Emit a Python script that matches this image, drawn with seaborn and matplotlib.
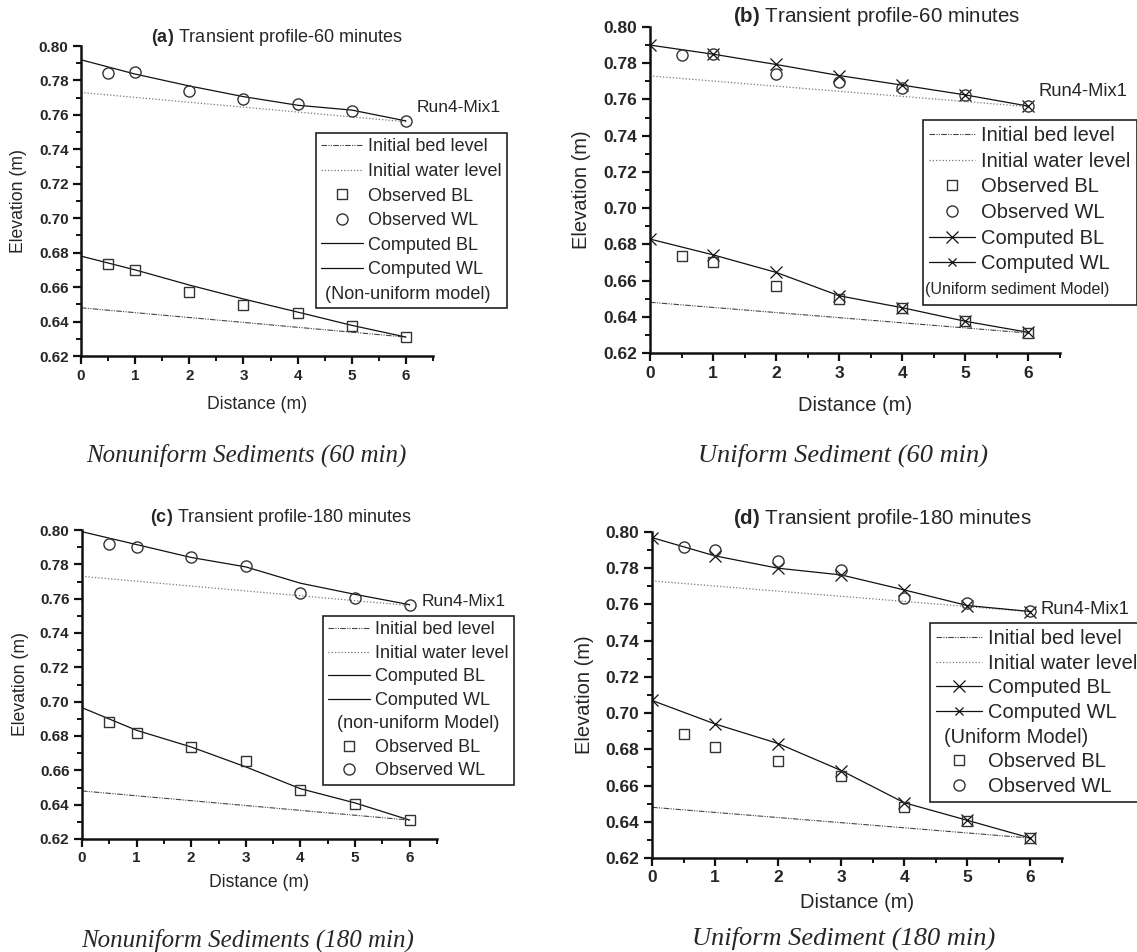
import numpy as np
import pandas as pd
import matplotlib
matplotlib.use("Agg")
import matplotlib.pyplot as plt
import seaborn as sns
from matplotlib.lines import Line2D

# ---- data ----
dist_obs = [0.5, 1, 2, 3, 4, 5, 6]
dist_cmp = [0, 1, 2, 3, 4, 5, 6]
dist_init = [0, 6]

init_bed = [0.648, 0.631]
init_water = [0.773, 0.756]

obs_bl_60 = [0.6735, 0.6700, 0.6570, 0.6497, 0.6448, 0.6374, 0.6310]
obs_wl_60 = [0.7845, 0.7850, 0.7738, 0.7695, 0.7664, 0.7624, 0.7562]
obs_bl_180 = [0.6883, 0.6815, 0.6737, 0.6655, 0.6484, 0.6405, 0.6310]
obs_wl_180 = [0.7917, 0.7900, 0.7840, 0.7790, 0.7635, 0.7606, 0.7563]

nonuni_bl_60 = [0.6780, 0.6700, 0.6612, 0.6531, 0.6455, 0.6378, 0.6310]
nonuni_wl_60 = [0.7920, 0.7837, 0.7768, 0.7706, 0.7656, 0.7628, 0.7565]
uni_bl_60 = [0.6829, 0.6742, 0.6645, 0.6516, 0.6450, 0.6375, 0.6314]
uni_wl_60 = [0.7900, 0.7850, 0.7793, 0.7732, 0.7679, 0.7625, 0.7563]
nonuni_bl_180 = [0.6965, 0.6833, 0.6736, 0.6620, 0.6493, 0.6410, 0.6310]
nonuni_wl_180 = [0.7990, 0.7915, 0.7840, 0.7785, 0.7690, 0.7625, 0.7565]
uni_bl_180 = [0.7070, 0.6940, 0.6832, 0.6683, 0.6505, 0.6408, 0.6310]
uni_wl_180 = [0.7969, 0.7868, 0.7800, 0.7763, 0.7680, 0.7594, 0.7561]

y_ticks = [0.62, 0.64, 0.66, 0.68, 0.70, 0.72, 0.74, 0.76, 0.78, 0.80]
x_ticks = [0, 1, 2, 3, 4, 5, 6]

sns.set_theme(style="ticks")
plt.rcParams['font.family'] = ['Liberation Sans', 'DejaVu Sans']
plt.rcParams['mathtext.fontset'] = 'custom'
plt.rcParams['mathtext.rm'] = 'Liberation Sans'
plt.rcParams['mathtext.bf'] = 'Liberation Sans:bold'

W, H = 1137, 952
fig = plt.figure(figsize=(W / 100, H / 100), dpi=100)
fig.patch.set_facecolor('white')

def fx(p):
    return p / W

def fy(p):
    return 1 - p / H

BED_LS = (0, (5, 1.2, 1, 1.2, 1, 1.2))
WAT_LS = (0, (1, 1.6))
GREY = '#333333'
pending = []  # (legend, row index, label, fontsize, x offset px)


def panel(box, letter, minutes, obs_bl, obs_wl, cmp_bl, cmp_wl, uniform,
          model_label, order, title_xy, leg_xy, run_xy, caption, cap_xy,
          big=False, ylab_x=-0.15, xlab_y=-0.13, model_fs=13, model_dx=8, lspace=0.4):
    l, t, r, b = box
    ax = fig.add_axes([fx(l), fy(b), fx(r) - fx(l), fy(t) - fy(b)])
    fs_tick = 12.5 if big else 11
    fs_lab = 14.5 if big else 12.7
    fs_leg = 14.5 if big else 13
    fs_title = 14.8 if big else 13

    sns.lineplot(x=dist_init, y=init_bed, ax=ax, color='#444444', lw=0.8, linestyle=BED_LS)
    sns.lineplot(x=dist_init, y=init_water, ax=ax, color='#777777', lw=0.9, linestyle=WAT_LS)
    if uniform:
        sns.lineplot(x=dist_cmp, y=cmp_bl, ax=ax, color='#111111', lw=0.9, marker='x',
                     markersize=8, markeredgecolor='#111111', markeredgewidth=0.9)
        sns.lineplot(x=dist_cmp, y=cmp_wl, ax=ax, color='#111111', lw=0.9, marker='x',
                     markersize=8, markeredgecolor='#111111', markeredgewidth=0.9)
    else:
        sns.lineplot(x=dist_cmp, y=cmp_bl, ax=ax, color='#111111', lw=0.9)
        sns.lineplot(x=dist_cmp, y=cmp_wl, ax=ax, color='#111111', lw=0.9)
    sns.lineplot(x=dist_obs, y=obs_bl, ax=ax, linestyle='none', marker='s', markersize=7,
                 markerfacecolor='none', markeredgecolor=GREY, markeredgewidth=1.0,
                 color=GREY, zorder=4)
    sns.lineplot(x=dist_obs, y=obs_wl, ax=ax, linestyle='none', marker='o', markersize=8,
                 markerfacecolor='none', markeredgecolor=GREY, markeredgewidth=1.0,
                 color=GREY, zorder=4)

    ax.set_xlim(0, 6.5)
    ax.set_ylim(0.62, 0.80)
    ax.set_xticks(x_ticks, labels=[str(v) for v in x_ticks], fontweight='bold', fontsize=fs_tick)
    ax.set_yticks(y_ticks, labels=['%.2f' % v for v in y_ticks], fontweight='bold', fontsize=fs_tick)
    ax.xaxis.set_minor_locator(plt.MultipleLocator(0.5))
    ax.yaxis.set_minor_locator(plt.MultipleLocator(0.01))
    ax.tick_params(which='major', direction='out', length=6, width=1.6, color='#111111', pad=3)
    ax.tick_params(which='minor', direction='out', length=3.5, width=1.4, color='#111111')
    sns.despine(ax=ax)
    for s in ('left', 'bottom'):
        ax.spines[s].set_linewidth(1.8)
        ax.spines[s].set_color('#111111')

    ax.set_xlabel('Distance (m)', fontsize=fs_lab)
    ax.set_ylabel('Elevation (m)', fontsize=fs_lab)
    ax.xaxis.set_label_coords(0.5, xlab_y)
    ax.yaxis.set_label_coords(ylab_x, 0.5)

    fig.text(fx(title_xy[0]), fy(title_xy[1]),
             r'$\mathbf{(%s)}$ Transient profile-%d minutes' % (letter, minutes),
             ha='center', va='center', fontsize=fs_title)
    fig.text(fx(run_xy[0]), fy(run_xy[1]), 'Run4-Mix1', ha='left', va='center',
             fontsize=13.2 if big else 12.5)
    fig.text(fx(cap_xy[0]), fy(cap_xy[1]), caption, ha='center', va='center',
             family='Liberation Serif', style='italic', fontsize=19 if big else 18)

    # legend
    h = {
        'Initial bed level': Line2D([], [], color='#444444', lw=0.8, linestyle=BED_LS),
        'Initial water level': Line2D([], [], color='#777777', lw=0.9, linestyle=WAT_LS),
        'Observed BL': Line2D([], [], linestyle='none', marker='s', markersize=7,
                              mfc='none', mec=GREY, mew=1.0),
        'Observed WL': Line2D([], [], linestyle='none', marker='o', markersize=8,
                              mfc='none', mec=GREY, mew=1.0),
        'model': Line2D([], [], linestyle='none'),
    }
    if uniform:
        h['Computed BL'] = Line2D([], [], color='#111111', lw=0.9, marker='x', markersize=8, mew=0.9)
        h['Computed WL'] = Line2D([], [], color='#111111', lw=0.9, marker='x', markersize=5.5, mew=0.9)
    else:
        h['Computed BL'] = Line2D([], [], color='#111111', lw=0.9)
        h['Computed WL'] = Line2D([], [], color='#111111', lw=0.9)
    handles = [h[k] for k in order]
    labels = [' ' if k == 'model' else k for k in order]
    leg = fig.legend(handles, labels, loc='upper left', bbox_to_anchor=(fx(leg_xy[0]), fy(leg_xy[1])),
                     bbox_transform=fig.transFigure, fontsize=fs_leg, frameon=True, fancybox=False,
                     framealpha=1, edgecolor='#222222', borderpad=0.3, labelspacing=lspace,
                     handlelength=2.3, handletextpad=0.3, borderaxespad=0)
    leg.get_frame().set_linewidth(1.2)
    pending.append((leg, order.index('model'), model_label, model_fs, model_dx))
    return ax


order_a = ['Initial bed level', 'Initial water level', 'Observed BL', 'Observed WL',
           'Computed BL', 'Computed WL', 'model']
order_c = ['Initial bed level', 'Initial water level', 'Computed BL', 'Computed WL',
           'model', 'Observed BL', 'Observed WL']

panel((81, 46, 433, 356), 'a', 60, obs_bl_60, obs_wl_60, nonuni_bl_60, nonuni_wl_60, False,
      '(Non-uniform model)', order_a, (277, 37), (316, 133), (417, 108),
      'Nonuniform Sediments (60 min)', (246, 455), big=False, ylab_x=-0.153, xlab_y=-0.129,
      model_fs=13, model_dx=9, lspace=0.42)
panel((650, 27, 1060, 353), 'b', 60, obs_bl_60, obs_wl_60, uni_bl_60, uni_wl_60, True,
      '(Uniform sediment Model)', order_a, (877, 17), (923, 120), (1039, 92),
      'Uniform Sediment (60 min)', (843, 455), big=True, ylab_x=-0.144, xlab_y=-0.132,
      model_fs=11.5, model_dx=2, lspace=0.33)
panel((82, 530, 437, 839), 'c', 180, obs_bl_180, obs_wl_180, nonuni_bl_180, nonuni_wl_180, False,
      '(non-uniform Model)', order_c, (281, 517), (323, 616), (422, 602),
      'Nonuniform Sediments (180 min)', (248, 940), big=False, ylab_x=-0.149, xlab_y=-0.113,
      model_fs=13, model_dx=14, lspace=0.36)
panel((652, 532, 1062, 858), 'd', 180, obs_bl_180, obs_wl_180, uni_bl_180, uni_wl_180, True,
      '(Uniform Model)', order_c, (882, 519), (930, 623), (1040, 610),
      'Uniform Sediment (180 min)', (844, 938), big=True, ylab_x=-0.141, xlab_y=-0.107,
      model_fs=14.5, model_dx=14, lspace=0.28)

# model note rows of the legends, placed from the legend layout
fig.canvas.draw()
rend = fig.canvas.get_renderer()
inv = fig.transFigure.inverted()
for leg, i, lab, fs, dx in pending:
    fr = leg.get_frame().get_window_extent(rend)
    tb = leg.get_texts()[i].get_window_extent(rend)
    x0, yc = inv.transform((fr.x0 + dx, (tb.y0 + tb.y1) / 2))
    fig.text(x0, yc, lab, ha='left', va='center', fontsize=fs, zorder=10)

fig.savefig('out.png', dpi=100)
